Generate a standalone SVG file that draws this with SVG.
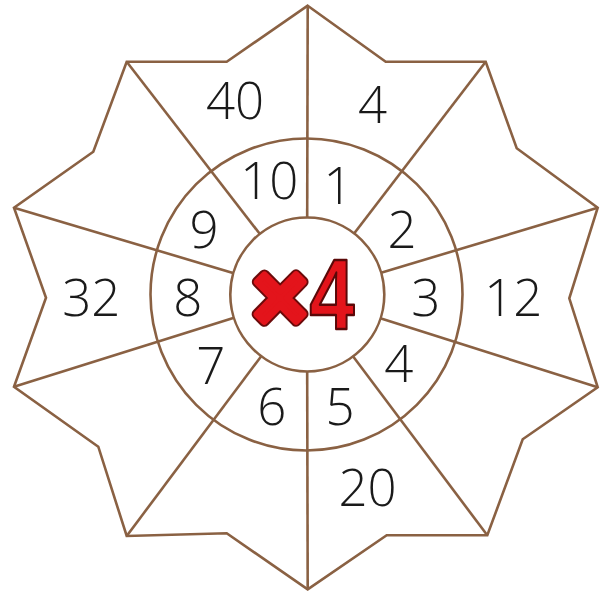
<svg xmlns="http://www.w3.org/2000/svg" width="612" height="592" viewBox="0 0 612 592">
<style>
.ln{fill:none;stroke:#8a6143;stroke-width:2.6;stroke-linejoin:miter}
.lnw{fill:#fff;stroke:#8a6143;stroke-width:2.6;stroke-linejoin:miter}
.num{font-family:"Open Sans","Liberation Sans",sans-serif;font-weight:300;font-size:51px;fill:#1a1a1a;text-anchor:middle}
.red{font-family:"Liberation Sans",Arial,sans-serif;font-weight:bold;text-anchor:middle;stroke-linejoin:round}
</style>
<rect width="612" height="592" fill="#fff"/>
<g id="star">
<polygon class="lnw" points="307.7,5.7 385.7,61.7 485.7,61.7 516.7,148.3 597.7,207.7 569.3,298.3 597.7,387.3 522.7,439.3 487.3,535.3 386.7,535.3 307.7,589.3 226.7,533.3 126.7,536 98.3,446.7 14,386.7 46,297.7 14,207.7 93.3,151.7 126.7,61.7 226.7,61.7"/>
</g>
<g id="connectors">
<line class="ln" x1="307.7" y1="5.7" x2="307" y2="295"/>
<line class="ln" x1="485.7" y1="61.7" x2="307" y2="295"/>
<line class="ln" x1="597.7" y1="207.7" x2="307" y2="295"/>
<line class="ln" x1="597.7" y1="387.3" x2="307" y2="295"/>
<line class="ln" x1="487.3" y1="535.3" x2="307" y2="295"/>
<line class="ln" x1="307.7" y1="589.3" x2="307" y2="295"/>
<line class="ln" x1="126.7" y1="536" x2="307" y2="295"/>
<line class="ln" x1="14" y1="386.7" x2="307" y2="295"/>
<line class="ln" x1="14" y1="207.7" x2="307" y2="295"/>
<line class="ln" x1="126.7" y1="61.7" x2="307" y2="295"/>
</g>
<g id="middle-ring">
<circle class="ln" cx="306.5" cy="294.5" r="156"/>
</g>
<g id="center">
<circle class="lnw" cx="307.3" cy="294.5" r="77"/>
<text class="red" x="280" y="329" font-size="92" fill="#e3141b" stroke="#6b0a0a" stroke-width="11">×</text>
<text class="red" x="280" y="329" font-size="92" fill="#e3141b" stroke="#e3141b" stroke-width="7">×</text>
<text class="red" transform="translate(332,329) scale(0.8,1)" font-size="101" fill="#e3141b" stroke="#5a0808" stroke-width="2.5">4</text>
</g>
<g id="outer-labels">
<text class="num" x="235" y="119.4">40</text>
<text class="num" x="372.5" y="122.8">4</text>
<text class="num" x="513.3" y="316">12</text>
<text class="num" x="367.6" y="506.4">20</text>
<text class="num" x="91.3" y="316">32</text>
</g>
<g id="inner-labels">
<text class="num" x="338" y="204">1</text>
<text class="num" x="402" y="247.5">2</text>
<text class="num" x="425.7" y="315.6">3</text>
<text class="num" x="398.8" y="381.7">4</text>
<text class="num" x="340" y="425.2">5</text>
<text class="num" x="271.7" y="425.2">6</text>
<text class="num" x="210.8" y="383.6">7</text>
<text class="num" x="187.8" y="316">8</text>
<text class="num" x="204" y="247.5">9</text>
<text class="num" x="269.3" y="199.2">10</text>
</g>
</svg>
